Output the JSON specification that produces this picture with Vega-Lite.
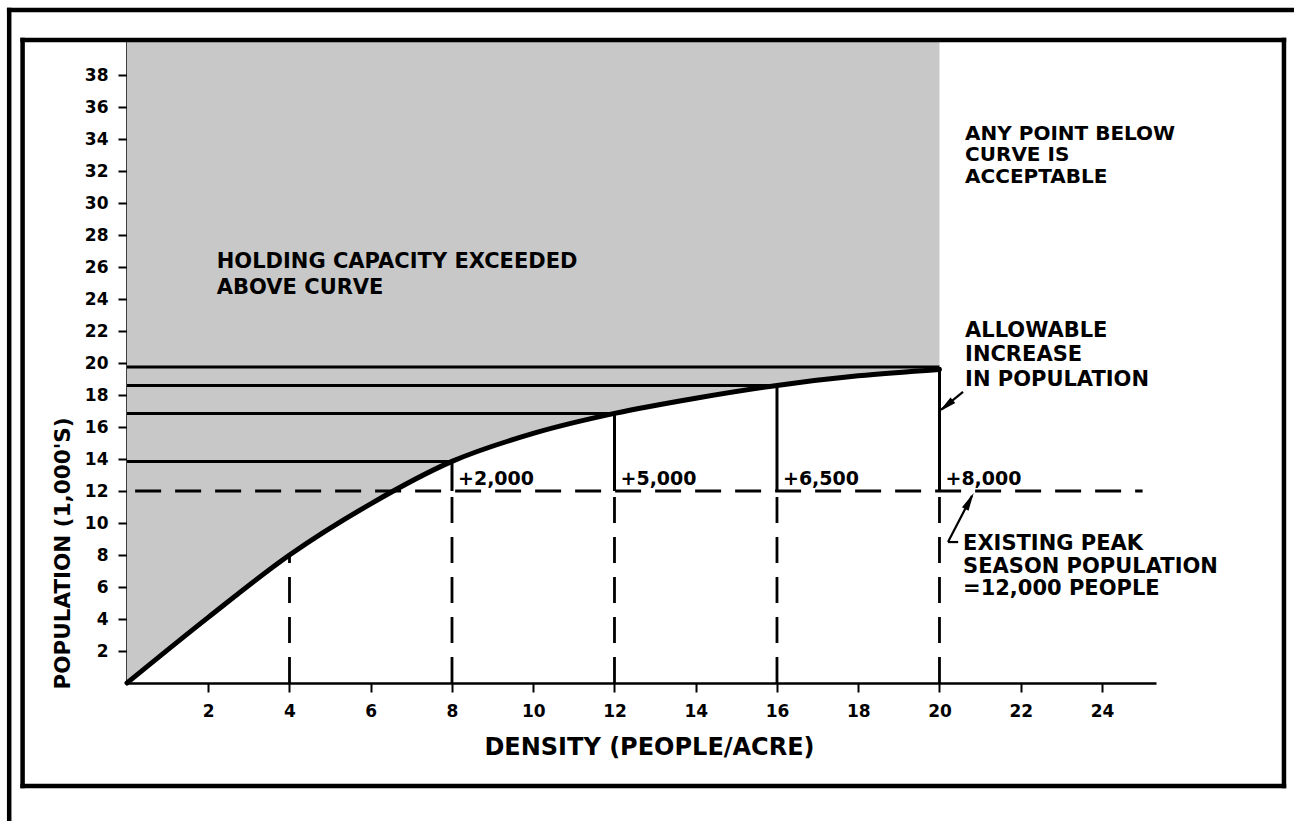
{
  "$schema": "https://vega.github.io/schema/vega-lite/v6.json",
  "width": 1029,
  "height": 643,
  "autosize": {"type": "none"},
  "padding": {"left": 127, "top": 40, "right": 138, "bottom": 138},
  "background": "white",
  "config": {
    "view": {"stroke": null},
    "axis": {
      "domainColor": "black", "domainWidth": 2.5,
      "tickColor": "black", "tickWidth": 2, "tickSize": 9,
      "labelColor": "black", "labelFont": "DejaVu Sans", "labelFontWeight": "bold", "labelFontSize": 17,
      "labelOverlap": false,
      "titleFont": "DejaVu Sans", "titleFontWeight": "bold", "titleColor": "black",
      "grid": false, "zindex": 1
    }
  },
  "datasets": {
    "curve": [
      {"d": 0, "pop": 0}, {"d": 2, "pop": 4.1}, {"d": 4, "pop": 8}, {"d": 6, "pop": 11.2},
      {"d": 8, "pop": 13.85}, {"d": 10, "pop": 15.6}, {"d": 12, "pop": 16.85}, {"d": 14, "pop": 17.8},
      {"d": 16, "pop": 18.6}, {"d": 18, "pop": 19.2}, {"d": 20, "pop": 19.6}
    ],
    "solid": [
      {"x": 0, "x2": 8, "y": 13.85, "y2": 13.85},
      {"x": 0, "x2": 12, "y": 16.85, "y2": 16.85},
      {"x": 0, "x2": 16, "y": 18.6, "y2": 18.6},
      {"x": 0, "x2": 20, "y": 19.75, "y2": 19.75},
      {"x": 8, "x2": 8, "y": 12, "y2": 13.85},
      {"x": 12, "x2": 12, "y": 12, "y2": 16.85},
      {"x": 16, "x2": 16, "y": 12, "y2": 18.6},
      {"x": 20, "x2": 20, "y": 12, "y2": 19.75}
    ],
    "dashed": [
      {"x": 0.2, "x2": 25, "y": 12, "y2": 12},
      {"x": 4, "x2": 4, "y": 0, "y2": 8},
      {"x": 8, "x2": 8, "y": 0, "y2": 12},
      {"x": 12, "x2": 12, "y": 0, "y2": 12},
      {"x": 16, "x2": 16, "y": 0, "y2": 12},
      {"x": 20, "x2": 20, "y": 0, "y2": 12}
    ],
    "pointers": [
      {"x": 20.58, "x2": 20.05, "y": 18.19, "y2": 17.1},
      {"x": 20.21, "x2": 20.8, "y": 8.81, "y2": 11.7},
      {"x": 20.21, "x2": 20.46, "y": 8.81, "y2": 8.81}
    ],
    "frame": [
      {"x": -2.9, "x2": 28.75, "y": 42.06, "y2": 42.06},
      {"x": -2.9, "x2": -2.9, "y": -8.7, "y2": 42.06},
      {"x": -2.57, "x2": 28.48, "y": 40.19, "y2": 40.19},
      {"x": -2.57, "x2": -2.57, "y": -6.44, "y2": 40.19},
      {"x": 28.48, "x2": 28.48, "y": -6.44, "y2": 40.19},
      {"x": -2.57, "x2": 28.48, "y": -6.44, "y2": -6.44}
    ]
  },
  "layer": [
    {
      "data": {"name": "curve"},
      "mark": {"type": "area", "interpolate": "monotone", "color": "#c8c8c8"},
      "encoding": {
        "x": {"field": "d", "type": "quantitative", "scale": {"domain": [0, 25.33], "nice": false},
          "axis": {"values": [2,4,6,8,10,12,14,16,18,20,22,24], "labelPadding": 19, "labelBaseline": "middle",
            "labelOverlap": false,
            "title": "DENSITY (PEOPLE/ACRE)", "titleFontSize": 24, "titleX": 522, "titleY": 64,
            "titleAlign": "center", "titleBaseline": "middle"}},
        "y": {"field": "pop", "type": "quantitative", "scale": {"domain": [0, 40.19], "nice": false},
          "axis": {"values": [2,4,6,8,10,12,14,16,18,20,22,24,26,28,30,32,34,36,38], "labelPadding": 10,
            "labelOverlap": false, "labelBound": false, "labelFlush": false, "tickCount": 19,
            "title": "POPULATION (1,000'S)", "titleFontSize": 21.5, "titleAngle": 270, "titleX": -63.5, "titleY": 513,
            "titleAlign": "center", "titleBaseline": "middle"}},
        "y2": {"datum": 40.19}
      }
    },
    {
      "data": {"name": "solid"},
      "mark": {"type": "rule", "color": "black", "strokeWidth": 3},
      "encoding": {
        "x": {"field": "x", "type": "quantitative", "scale": {"domain": [0, 25.33], "nice": false}},
        "x2": {"field": "x2"},
        "y": {"field": "y", "type": "quantitative", "scale": {"domain": [0, 40.19], "nice": false}},
        "y2": {"field": "y2"}
      }
    },
    {
      "data": {"name": "dashed"},
      "mark": {"type": "rule", "color": "black", "strokeWidth": 2.8, "strokeDash": [26, 14]},
      "encoding": {
        "x": {"field": "x", "type": "quantitative", "scale": {"domain": [0, 25.33], "nice": false}},
        "x2": {"field": "x2"},
        "y": {"field": "y", "type": "quantitative", "scale": {"domain": [0, 40.19], "nice": false}},
        "y2": {"field": "y2"}
      }
    },
    {
      "data": {"name": "pointers"},
      "mark": {"type": "rule", "color": "black", "strokeWidth": 2.2},
      "encoding": {
        "x": {"field": "x", "type": "quantitative", "scale": {"domain": [0, 25.33], "nice": false}},
        "x2": {"field": "x2"},
        "y": {"field": "y", "type": "quantitative", "scale": {"domain": [0, 40.19], "nice": false}},
        "y2": {"field": "y2"}
      }
    },
    {
      "data": {"name": "frame"},
      "mark": {"type": "rule", "color": "black", "strokeWidth": 4.5, "strokeCap": "square"},
      "encoding": {
        "x": {"field": "x", "type": "quantitative", "scale": {"domain": [0, 25.33], "nice": false}},
        "x2": {"field": "x2"},
        "y": {"field": "y", "type": "quantitative", "scale": {"domain": [0, 40.19], "nice": false}},
        "y2": {"field": "y2"}
      }
    },
    {
      "data": {"name": "curve"},
      "mark": {"type": "line", "interpolate": "monotone", "color": "black", "strokeWidth": 5, "strokeCap": "round"},
      "encoding": {
        "x": {"field": "d", "type": "quantitative", "scale": {"domain": [0, 25.33], "nice": false}},
        "y": {"field": "pop", "type": "quantitative", "scale": {"domain": [0, 40.19], "nice": false}}
      }
    },
    {
      "data": {"values": [{"x": 20.19, "y": 17.375}]},
      "mark": {"type": "point", "filled": true, "color": "black", "opacity": 1, "size": 450, "angle": 230, "shape": "M0,-1L0.35,0.7L-0.35,0.7Z"},
      "encoding": {
        "x": {"field": "x", "type": "quantitative", "scale": {"domain": [0, 25.33], "nice": false}},
        "y": {"field": "y", "type": "quantitative", "scale": {"domain": [0, 40.19], "nice": false}}
      }
    },
    {
      "data": {"values": [{"x": 20.72, "y": 11.29}]},
      "mark": {"type": "point", "filled": true, "color": "black", "opacity": 1, "size": 450, "angle": 28, "shape": "M0,-1L0.35,0.7L-0.35,0.7Z"},
      "encoding": {
        "x": {"field": "x", "type": "quantitative", "scale": {"domain": [0, 25.33], "nice": false}},
        "y": {"field": "y", "type": "quantitative", "scale": {"domain": [0, 40.19], "nice": false}}
      }
    },
    {
      "data": {"values": [
        {"x": 2.21, "y": 25.94, "label": "HOLDING CAPACITY EXCEEDED\nABOVE CURVE"}
      ]},
      "mark": {"type": "text", "align": "left", "baseline": "alphabetic", "font": "DejaVu Sans", "fontWeight": "bold", "fontSize": 21, "lineBreak": "\n", "lineHeight": 26, "color": "black"},
      "encoding": {
        "x": {"field": "x", "type": "quantitative", "scale": {"domain": [0, 25.33], "nice": false}},
        "y": {"field": "y", "type": "quantitative", "scale": {"domain": [0, 40.19], "nice": false}},
        "text": {"field": "label"}
      }
    },
    {
      "data": {"values": [
        {"x": 20.63, "y": 33.94, "label": "ANY POINT BELOW\nCURVE IS\nACCEPTABLE"}
      ]},
      "mark": {"type": "text", "align": "left", "baseline": "alphabetic", "font": "DejaVu Sans", "fontWeight": "bold", "fontSize": 20, "lineBreak": "\n", "lineHeight": 21.5, "color": "black"},
      "encoding": {
        "x": {"field": "x", "type": "quantitative", "scale": {"domain": [0, 25.33], "nice": false}},
        "y": {"field": "y", "type": "quantitative", "scale": {"domain": [0, 40.19], "nice": false}},
        "text": {"field": "label"}
      }
    },
    {
      "data": {"values": [
        {"x": 20.63, "y": 21.64, "label": "ALLOWABLE\nINCREASE\nIN POPULATION"}
      ]},
      "mark": {"type": "text", "align": "left", "baseline": "alphabetic", "font": "DejaVu Sans", "fontWeight": "bold", "fontSize": 21, "lineBreak": "\n", "lineHeight": 24.5, "color": "black"},
      "encoding": {
        "x": {"field": "x", "type": "quantitative", "scale": {"domain": [0, 25.33], "nice": false}},
        "y": {"field": "y", "type": "quantitative", "scale": {"domain": [0, 40.19], "nice": false}},
        "text": {"field": "label"}
      }
    },
    {
      "data": {"values": [
        {"x": 20.58, "y": 8.31, "label": "EXISTING PEAK\nSEASON POPULATION\n=12,000 PEOPLE"}
      ]},
      "mark": {"type": "text", "align": "left", "baseline": "alphabetic", "font": "DejaVu Sans", "fontWeight": "bold", "fontSize": 21, "lineBreak": "\n", "lineHeight": 22.5, "color": "black"},
      "encoding": {
        "x": {"field": "x", "type": "quantitative", "scale": {"domain": [0, 25.33], "nice": false}},
        "y": {"field": "y", "type": "quantitative", "scale": {"domain": [0, 40.19], "nice": false}},
        "text": {"field": "label"}
      }
    },
    {
      "data": {"values": [
        {"x": 8, "y": 12.375, "label": "+2,000"},
        {"x": 12, "y": 12.375, "label": "+5,000"},
        {"x": 16, "y": 12.375, "label": "+6,500"},
        {"x": 20, "y": 12.375, "label": "+8,000"}
      ]},
      "mark": {"type": "text", "align": "left", "baseline": "alphabetic", "dx": 6, "font": "DejaVu Sans", "fontWeight": "bold", "fontSize": 19, "color": "black"},
      "encoding": {
        "x": {"field": "x", "type": "quantitative", "scale": {"domain": [0, 25.33], "nice": false}},
        "y": {"field": "y", "type": "quantitative", "scale": {"domain": [0, 40.19], "nice": false}},
        "text": {"field": "label"}
      }
    }
  ]
}
